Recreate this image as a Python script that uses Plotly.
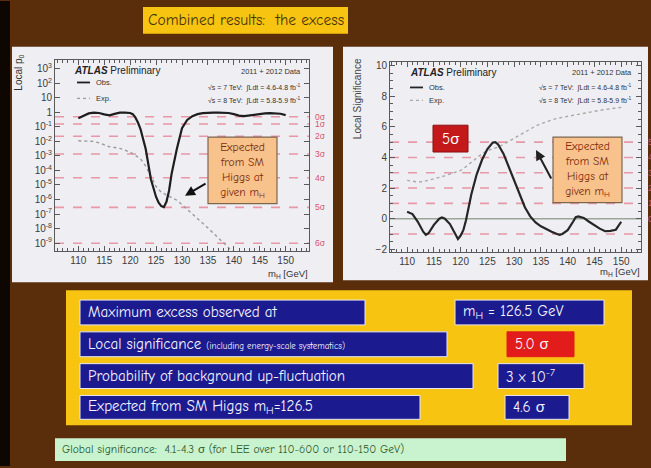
import math
import plotly.graph_objects as go

W, H = 651, 468

# ---------------- data ----------------
# Local p0 vs Higgs mass (left panel)
mass_p0_obs = [110, 111, 112, 113, 114, 115, 116, 117, 118, 119, 120, 120.5, 121, 121.5,
               122, 123, 124, 125, 125.5, 126, 126.5, 127, 127.5, 128, 129, 130, 131,
               132, 133, 134, 135, 136, 137, 138, 139, 140, 141, 142, 143, 144, 145,
               146, 147, 148, 149, 150]
p0_obs = [0.40, 0.55, 0.85, 0.95, 0.90, 0.72, 0.62, 0.78, 0.95, 0.97, 0.90, 0.75, 0.45, 0.20,
          0.07, 3.0e-3, 2.5e-5, 1.5e-6, 6.0e-7, 3.5e-7, 3.0e-7, 7.0e-7, 4.0e-6, 6.0e-5,
          3.0e-3, 0.08, 0.30, 0.55, 0.75, 0.88, 0.95, 0.97, 0.97, 0.95, 0.90, 0.75, 0.60,
          0.55, 0.62, 0.72, 0.80, 0.85, 0.88, 0.86, 0.80, 0.65]

mass_p0_exp = [110, 111, 112, 113, 114, 115, 116, 117, 118, 119, 120, 121, 122, 123, 124,
               125, 126, 127, 128, 129, 130, 131, 132, 133, 134, 135, 136, 137, 138, 139,
               140, 141]
p0_exp = [1.1e-2, 1.1e-2, 1.07e-2, 1.0e-2, 7.9e-3, 5.6e-3, 4.3e-3, 3.8e-3, 3.3e-3, 2.5e-3,
          1.8e-3, 1.1e-3, 6.3e-4, 2.0e-4, 4.0e-5, 7.9e-6, 3.2e-6, 2.0e-6, 1.4e-6, 8.9e-7,
          4.5e-7, 2.2e-7, 1.0e-7, 5.0e-8, 2.5e-8, 1.1e-8, 5.0e-9, 2.2e-9, 1.0e-9, 4.5e-10,
          2.0e-10, 1.0e-10]

# Local significance vs Higgs mass (right panel)
mass_sig_obs = [110, 111, 112, 113, 113.5, 114, 115, 116, 116.5, 117, 118, 119, 119.5, 120,
                120.5, 121, 122, 123, 124, 125, 125.5, 126, 126.5, 127, 128, 129, 130, 131,
                132, 133, 134, 135, 136, 137, 138, 138.5, 139, 140, 141, 141.5, 142, 143,
                144, 145, 146, 147, 148, 149, 150]
sig_obs = [0.45, 0.30, -0.20, -0.85, -1.05, -0.95, -0.40, 0.00, 0.08, 0.02, -0.35, -1.05,
           -1.32, -1.10, -0.75, -0.10, 1.60, 2.90, 3.85, 4.55, 4.80, 4.97, 5.00, 4.85, 4.25,
           3.35, 2.45, 1.55, 0.75, 0.15, -0.25, -0.50, -0.70, -0.85, -1.00, -1.05, -1.00,
           -0.75, -0.20, 0.10, 0.15, 0.05, -0.20, -0.45, -0.65, -0.82, -0.80, -0.72, -0.20]

mass_sig_exp = [110, 111, 112, 113, 114, 115, 116, 117, 118, 119, 120, 121, 122, 123, 124,
                125, 126, 126.5, 127, 128, 129, 130, 131, 132, 133, 134, 135, 136, 137, 138,
                139, 140, 141, 142, 143, 144, 145, 146, 147, 148, 149, 150]
sig_exp = [2.50, 2.45, 2.40, 2.42, 2.50, 2.60, 2.70, 2.80, 2.90, 3.00, 3.15, 3.40, 3.70, 4.00,
           4.25, 4.45, 4.55, 4.60, 4.68, 4.85, 5.05, 5.30, 5.50, 5.70, 5.90, 6.05, 6.20, 6.35,
           6.45, 6.55, 6.62, 6.70, 6.78, 6.85, 6.90, 6.97, 7.03, 7.08, 7.13, 7.18, 7.23, 7.27]

# Reference significance levels
sigma_names = ["0σ", "1σ", "2σ", "3σ", "4σ", "5σ", "6σ"]
sigma_p0 = [0.5, 0.1587, 0.02275, 1.35e-3, 3.17e-5, 2.87e-7, 9.87e-10]
sig_levels = [-1, 1, 2, 3, 4, 5]

# Axis ticks
mass_ticks = [110, 115, 120, 125, 130, 135, 140, 145, 150]
p0_tick_vals = [1e3, 1e2, 1e1, 1, 1e-1, 1e-2, 1e-3, 1e-4, 1e-5, 1e-6, 1e-7, 1e-8, 1e-9]
p0_tick_text = ["10<sup>3</sup>", "10<sup>2</sup>", "10", "1", "10<sup>-1</sup>",
                "10<sup>-2</sup>", "10<sup>-3</sup>", "10<sup>-4</sup>", "10<sup>-5</sup>",
                "10<sup>-6</sup>", "10<sup>-7</sup>", "10<sup>-8</sup>", "10<sup>-9</sup>"]
sig_tick_vals = [-2, 0, 2, 4, 6, 8, 10]

# Summary table
row_labels = ["Maximum excess observed at",
              "Local significance <span style='font-size:9px'>(including energy-scale systematics)</span>",
              "Probability of background up-fluctuation",
              "Expected from SM Higgs m<sub>H</sub>=126.5"]
row_values = ["m<sub>H</sub> = 126.5 GeV", "5.0 σ", "3 x 10<sup>-7</sup>", "4.6 σ"]
global_text = "Global significance:  4.1-4.3 σ (for LEE over 110-600 or 110-150 GeV)"
title_text = "Combined results:  the excess"

# ---------------- styling ----------------
BROWN = "#5b2e0b"
PANEL = "#efeff3"
YELLOW = "#f7c412"
NAVY = "#1b1a8e"
RED_BOX = "#e21b1b"
PINK = "rgba(226,80,105,0.55)"
COMIC = "Comic Sans MS, Comic Neue, Lato, sans-serif"
ARIAL = "Arial, Liberation Sans, sans-serif"


def px(x):
    return x / W


def py(y):
    return 1 - y / H


def rect(x0, y0, x1, y1, fill, line=None, width=0, layer="below"):
    return dict(type="rect", xref="paper", yref="paper",
                x0=px(x0), x1=px(x1), y0=py(y1), y1=py(y0),
                fillcolor=fill, line=dict(color=line or fill, width=width), layer=layer)


def seg(x0, y0, x1, y1, color, width=1.5, dash="solid"):
    return dict(type="line", xref="paper", yref="paper",
                x0=px(x0), x1=px(x1), y0=py(y0), y1=py(y1),
                line=dict(color=color, width=width, dash=dash), layer="above")


def label(x, y, s, size, color, xanchor="left", family=COMIC, yanchor="middle", **kw):
    return dict(xref="paper", yref="paper", x=px(x), y=py(y), text=s, showarrow=False,
                xanchor=xanchor, yanchor=yanchor,
                font=dict(size=size, color=color, family=family), **kw)


fig = go.Figure()

# ---- left panel: local p0 ----
XL = [105.5, 154.5]
for p in sigma_p0:
    fig.add_trace(go.Scatter(x=XL, y=[p, p], mode="lines", xaxis="x", yaxis="y",
                             line=dict(color=PINK, width=1.6, dash="dash"),
                             hoverinfo="skip", showlegend=False))
fig.add_trace(go.Scatter(x=mass_p0_exp, y=p0_exp, mode="lines", xaxis="x", yaxis="y",
                         line=dict(color="#9a9a9a", width=1.4, dash="dot"), showlegend=False))
fig.add_trace(go.Scatter(x=mass_p0_obs, y=p0_obs, mode="lines", xaxis="x", yaxis="y",
                         line=dict(color="#1e1e1e", width=2.2), showlegend=False))

# ---- right panel: local significance ----
XR = [106.8, 153.7]
for s in sig_levels:
    fig.add_trace(go.Scatter(x=XR, y=[s, s], mode="lines", xaxis="x2", yaxis="y2",
                             line=dict(color=PINK, width=1.6, dash="dash"),
                             hoverinfo="skip", showlegend=False))
fig.add_trace(go.Scatter(x=XR, y=[0, 0], mode="lines", xaxis="x2", yaxis="y2",
                         line=dict(color="#9aa69a", width=1.4),
                         hoverinfo="skip", showlegend=False))
fig.add_trace(go.Scatter(x=mass_sig_exp, y=sig_exp, mode="lines", xaxis="x2", yaxis="y2",
                         line=dict(color="#a8a8a8", width=1.4, dash="dot"), showlegend=False))
fig.add_trace(go.Scatter(x=mass_sig_obs, y=sig_obs, mode="lines", xaxis="x2", yaxis="y2",
                         line=dict(color="#262626", width=2.2), showlegend=False))

axis_common = dict(showgrid=False, zeroline=False, showline=True, linecolor="#5a5a5a",
                   linewidth=1, mirror="ticks", ticks="inside", tickcolor="#5a5a5a",
                   ticklen=5, tickfont=dict(family=ARIAL, size=10, color="#3c3c3c"))

fig.update_layout(
    width=W, height=H, margin=dict(l=0, r=0, t=0, b=0),
    paper_bgcolor=BROWN, plot_bgcolor=PANEL,
    xaxis=dict(domain=[px(55), px(309)], range=XL, anchor="y", tickvals=mass_ticks,
               minor=dict(ticks="inside", ticklen=3, dtick=1, tickcolor="#5a5a5a"),
               **axis_common),
    yaxis=dict(domain=[py(252), py(59)], type="log", range=[-9.57, 3.63], anchor="x",
               tickvals=p0_tick_vals, ticktext=p0_tick_text, **axis_common),
    xaxis2=dict(domain=[px(390), px(641)], range=XR, anchor="y2", tickvals=mass_ticks,
                minor=dict(ticks="inside", ticklen=3, dtick=1, tickcolor="#5a5a5a"),
                **axis_common),
    yaxis2=dict(domain=[py(253), py(61)], range=[-2.2, 10.26], anchor="x2",
                tickvals=sig_tick_vals,
                minor=dict(ticks="inside", ticklen=3, dtick=0.5, tickcolor="#5a5a5a"),
                **axis_common),
)

shapes = [
    rect(0, 0, 10, H, "#0e0600"),
    rect(143, 6, 348, 33, YELLOW),
    rect(12, 46, 333, 283, PANEL),
    rect(343, 46, 648, 281, PANEL),
    rect(66, 291, 632, 427, YELLOW),
    rect(55, 440, 566, 463, "#c9f3cf"),
]
# summary rows
row_boxes = [(80, 365, 455, 604, NAVY), (80, 447, 507, 574, RED_BOX),
             (80, 473, 498, 584, NAVY), (80, 420, 505, 569, NAVY)]
row_y = [(301, 326), (333, 358), (365, 390), (397, 421)]
for (lx0, lx1, rx0, rx1, rc), (y0, y1) in zip(row_boxes, row_y):
    shapes.append(rect(lx0, y0, lx1, y1, NAVY, "#e8e8f5", 1))
    shapes.append(rect(rx0, y0, rx1, y1, rc, "#e8e8f5" if rc == NAVY else rc, 1))

# callout boxes and 5 sigma badge
shapes.append(rect(208, 137, 277, 204, "#f8c28c", "#7d6650", 1.2, layer="above"))
shapes.append(rect(553, 137, 622, 203, "#f8c28c", "#7d6650", 1.2, layer="above"))
shapes.append(rect(433, 125, 468, 152, "#c3191b", "#8a1010", 1, layer="above"))

# legend line samples
shapes += [seg(77, 82, 90, 82, "#1e1e1e", 1.8), seg(77, 98, 90, 98, "#9a9a9a", 1.3, "dot"),
           seg(410, 87, 423, 87, "#262626", 1.8), seg(410, 100, 423, 100, "#a8a8a8", 1.3, "dot")]

annotations = [
    label(245.5, 19.5, title_text, 15.5, "#4a3406", xanchor="center"),
    label(60, 451.5, global_text, 11.5, "#2f5a2c"),
]
for s, v, (y0, y1), (lx0, lx1, rx0, rx1, rc) in zip(row_labels, row_values, row_y, row_boxes):
    annotations.append(label(86, (y0 + y1) / 2, s, 15, "#f4f4ff"))
    annotations.append(label(rx0 + 6, (y0 + y1) / 2, v, 15, "#f4f4ff"))

# panel headers and legends
annotations += [
    label(72, 70, "<b><i>ATLAS</i></b> Preliminary", 10, "#222", family=ARIAL),
    label(94, 82, "Obs.", 7.5, "#333", family=ARIAL),
    label(94, 98, "Exp.", 7.5, "#333", family=ARIAL),
    label(303, 71, "2011 + 2012 Data", 7.5, "#333", xanchor="right", family=ARIAL),
    label(303, 87, "√s = 7 TeV:  ∫Ldt = 4.6-4.8 fb<sup>-1</sup>", 7, "#333",
          xanchor="right", family=ARIAL),
    label(303, 100, "√s = 8 TeV:  ∫Ldt = 5.8-5.9 fb<sup>-1</sup>", 7, "#333",
          xanchor="right", family=ARIAL),
    label(408, 72, "<b><i>ATLAS</i></b> Preliminary", 10, "#222", family=ARIAL),
    label(427, 87, "Obs.", 7.5, "#333", family=ARIAL),
    label(427, 100, "Exp.", 7.5, "#333", family=ARIAL),
    label(634, 72, "2011 + 2012 Data", 7.5, "#333", xanchor="right", family=ARIAL),
    label(634, 87, "√s = 7 TeV:  ∫Ldt = 4.6-4.8 fb<sup>-1</sup>", 7, "#333",
          xanchor="right", family=ARIAL),
    label(634, 100, "√s = 8 TeV:  ∫Ldt = 5.8-5.9 fb<sup>-1</sup>", 7, "#333",
          xanchor="right", family=ARIAL),
    label(310, 275, "m<sub>H</sub> [GeV]", 9.5, "#333", xanchor="right", family=ARIAL),
    label(642, 273, "m<sub>H</sub> [GeV]", 9.5, "#333", xanchor="right", family=ARIAL),
    label(19, 52, "Local p<sub>0</sub>", 10, "#333", xanchor="center", yanchor="top",
          family=ARIAL, textangle=-90),
    label(357, 56, "Local Significance", 10, "#444", xanchor="center", yanchor="top",
          family=ARIAL, textangle=-90),
    label(450.5, 138.5, "5σ", 15, "#ffffff", xanchor="center"),
]
callout = "Expected<br>from SM<br>Higgs at<br>given m<sub>H</sub>"
annotations.append(label(242.5, 170.5, callout, 11.5, "#7a2c0c", xanchor="center"))
annotations.append(label(587.5, 170, callout, 11.5, "#7a2c0c", xanchor="center"))

# sigma level labels
for name, p in zip(sigma_names, sigma_p0):
    annotations.append(dict(xref="paper", yref="y", x=px(313), y=math.log10(p), text=name,
                            showarrow=False, xanchor="left", yanchor="middle",
                            font=dict(size=8.5, color="#d9506a", family=ARIAL)))
for s in [0, 1, 2, 3, 4, 5]:
    annotations.append(dict(xref="paper", yref="y2", x=px(646), y=s, text=f"{s}σ",
                            showarrow=False, xanchor="left", yanchor="middle",
                            font=dict(size=8.5, color="#d9506a", family=ARIAL)))

# arrows from the callouts to the expected curves
annotations.append(dict(xref="paper", yref="paper", x=px(185), y=py(196), ax=22, ay=-13,
                        text="", showarrow=True, arrowhead=2, arrowsize=1, arrowwidth=2,
                        arrowcolor="#111"))
annotations.append(dict(xref="paper", yref="paper", x=px(536), y=py(150), ax=16, ay=30,
                        text="", showarrow=True, arrowhead=2, arrowsize=1, arrowwidth=2,
                        arrowcolor="#222"))

fig.update_layout(shapes=shapes, annotations=annotations)
fig.write_html("out.html")
